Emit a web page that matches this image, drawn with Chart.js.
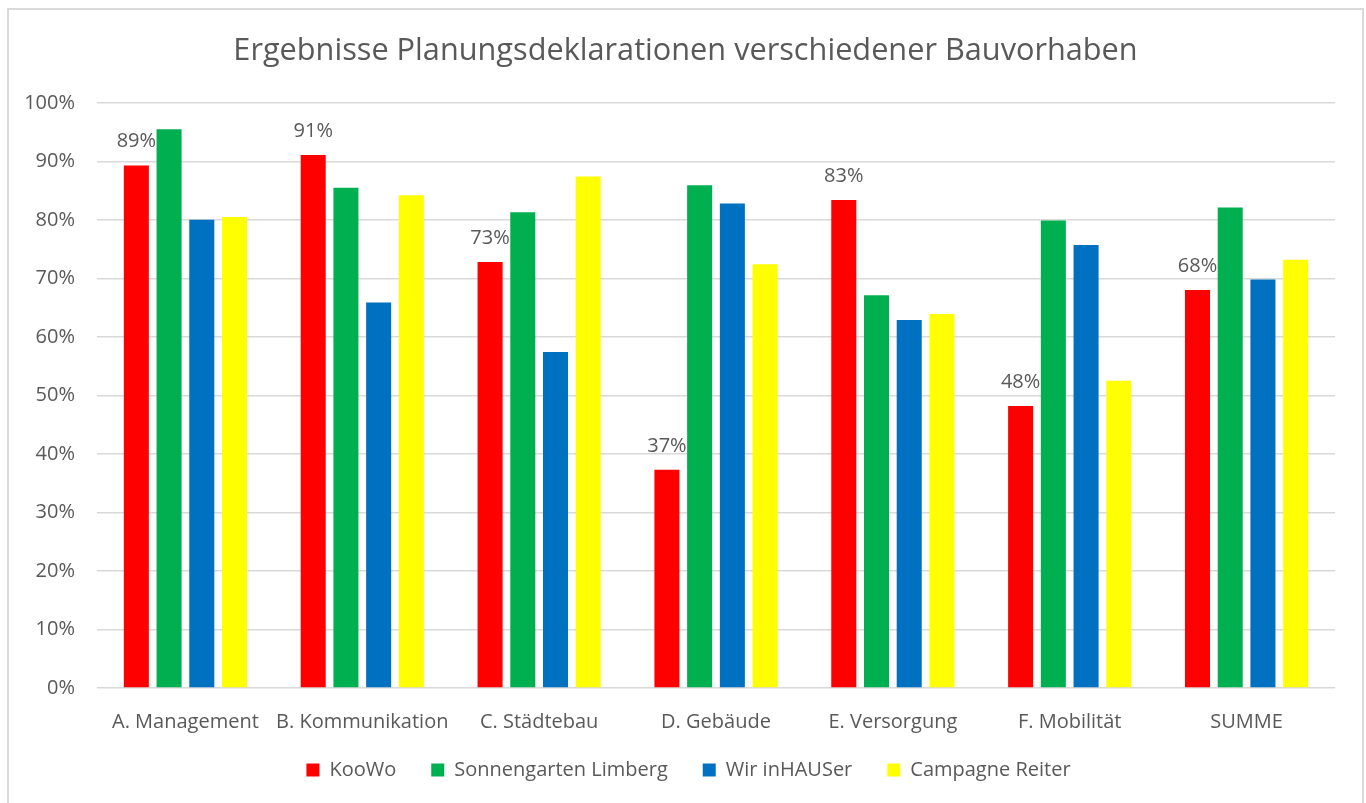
<!DOCTYPE html>
<html><head><meta charset="utf-8">
<script src="https://cdn.jsdelivr.net/npm/chart.js@4/dist/chart.umd.min.js"></script>
<style>
html,body{margin:0;padding:0;background:#fff;overflow:hidden;width:1366px;height:803px}
#c{position:absolute;left:0;top:0}
#frame{position:absolute;left:7px;top:8px;width:1353px;height:830px;border:2px solid #d9d9d9;pointer-events:none}
</style></head><body>
<canvas id="c" width="1366" height="803"></canvas>
<div id="frame"></div>
<script>
const chartTitle = 'Ergebnisse Planungsdeklarationen verschiedener Bauvorhaben';
const categories = ['A. Management', 'B. Kommunikation', 'C. Städtebau', 'D. Gebäude', 'E. Versorgung', 'F. Mobilität', 'SUMME'];
const seriesNames = ['KooWo', 'Sonnengarten Limberg', 'Wir inHAUSer', 'Campagne Reiter'];
const koowo = [89.3, 91.1, 72.8, 37.3, 83.4, 48.2, 68.0];
const sonnengarten = [95.5, 85.5, 81.3, 85.9, 67.1, 79.9, 82.1];
const wirInHauser = [80.0, 65.9, 57.4, 82.8, 62.9, 75.7, 69.8];
const campagneReiter = [80.5, 84.2, 87.4, 72.4, 63.9, 52.5, 73.2];
const yTicks = [0, 10, 20, 30, 40, 50, 60, 70, 80, 90, 100];

const FONT = '"Open Sans", "Noto Sans", sans-serif';
const TEXT = '#595959';
const colors = ['#FF0000', '#00B050', '#0070C0', '#FFFF00'];
const seriesData = [koowo, sonnengarten, wirInHauser, campagneReiter];

const valueLabels = {
  id: 'valueLabels',
  afterDatasetsDraw(chart) {
    const ctx = chart.ctx;
    const meta = chart.getDatasetMeta(0);
    ctx.save();
    ctx.font = '20px ' + FONT;
    ctx.fillStyle = TEXT;
    ctx.textAlign = 'center';
    ctx.textBaseline = 'alphabetic';
    meta.data.forEach((bar, i) => {
      ctx.fillText(Math.round(koowo[i]) + '%', bar.x, bar.y - 18);
    });
    ctx.restore();
  }
};

// shift title and legend boxes to match the reference's placement
const boxShift = {
  id: 'boxShift',
  afterLayout(chart) {
    const lg = chart.legend;
    if (lg) {
      const dy = 725 - lg.top;
      lg.top += dy; lg.bottom += dy;
      lg.left += 21; lg.right += 21;
    }
    const tb = chart.titleBlock;
    if (tb) { tb.left += 18; tb.right += 18; }
  }
};

function draw() {
  new Chart(document.getElementById('c'), {
    type: 'bar',
    data: {
      labels: categories,
      datasets: seriesNames.map((name, i) => ({
        label: name,
        data: seriesData[i],
        backgroundColor: colors[i],
        borderWidth: 0,
        barPercentage: 0.765,
        categoryPercentage: 0.74
      }))
    },
    options: {
      responsive: false,
      animation: false,
      devicePixelRatio: 1,
      layout: { padding: { left: 0, right: 31, top: 0, bottom: 0 } },
      plugins: {
        title: {
          display: true,
          text: chartTitle,
          color: TEXT,
          font: { family: FONT, size: 30.7, weight: 'normal' },
          padding: { top: 33, bottom: 33 }
        },
        legend: {
          position: 'bottom',
          labels: {
            color: TEXT,
            font: { family: FONT, size: 20 },
            boxWidth: 13,
            boxHeight: 13,
            padding: 35
          }
        },
        tooltip: { enabled: false }
      },
      scales: {
        x: {
          afterFit: s => { s.height = 50; },
          grid: { display: false, drawTicks: false },
          border: { display: false },
          ticks: { color: TEXT, font: { family: FONT, size: 20 }, padding: 22, maxRotation: 0, autoSkip: false }
        },
        y: {
          min: 0, max: 100,
          afterFit: s => { s.width = 97; },
          afterBuildTicks: s => { s.ticks = yTicks.map(v => ({ value: v })); },
          grid: { color: '#d9d9d9', lineWidth: 1.5, drawTicks: false },
          border: { display: false },
          ticks: { color: TEXT, font: { family: FONT, size: 20 }, padding: 22, callback: v => v + '%' }
        }
      }
    },
    plugins: [valueLabels, boxShift]
  });
}
if (document.fonts && document.fonts.load) {
  Promise.all([document.fonts.load('20px "Open Sans"'), document.fonts.load('30px "Open Sans"')]).then(draw, draw);
} else { draw(); }
</script>
</body></html>
